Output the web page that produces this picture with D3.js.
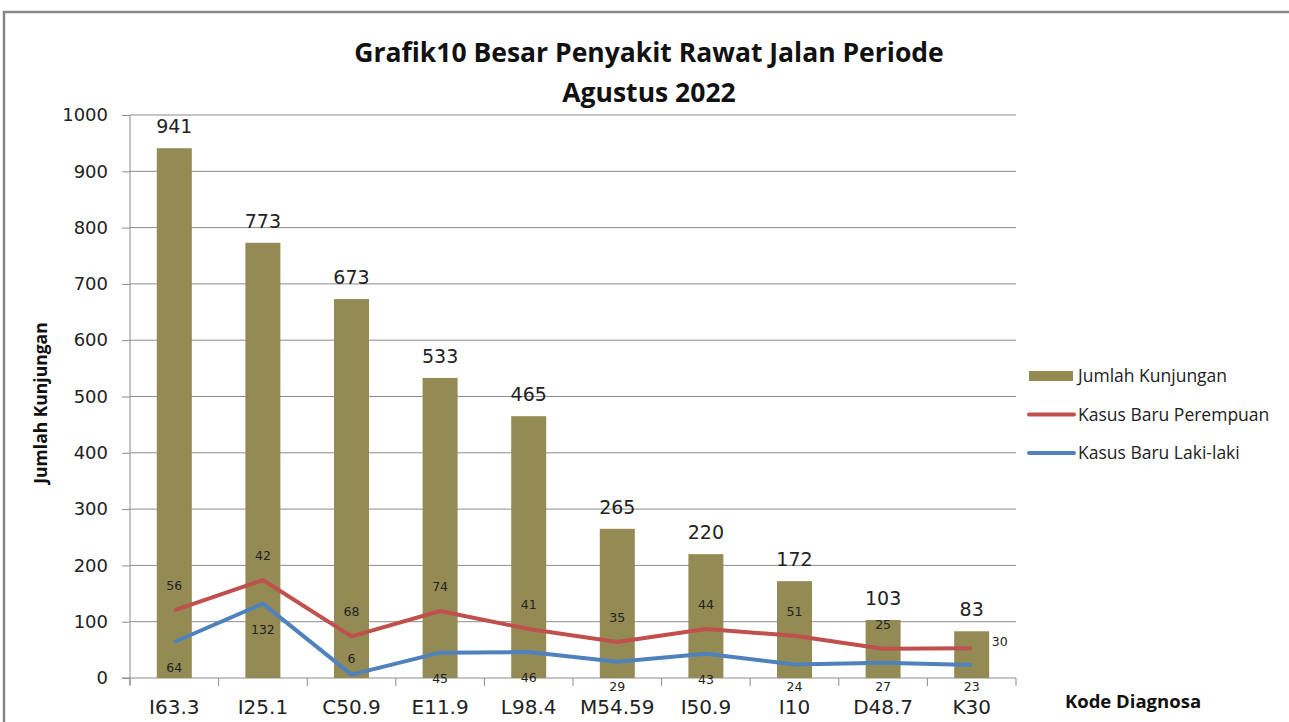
<!DOCTYPE html>
<html>
<head>
<meta charset="utf-8">
<script src="https://cdn.jsdelivr.net/npm/d3@7"></script>
<style>
  body { margin: 0; background: #fff; }
  svg { display: block; }
</style>
</head>
<body>
<div id="chart"></div>
<script>
const categories = ["I63.3", "I25.1", "C50.9", "E11.9", "L98.4", "M54.59", "I50.9", "I10", "D48.7", "K30"];
const kunjungan = [941, 773, 673, 533, 465, 265, 220, 172, 103, 83];
const baruLaki = [64, 132, 6, 45, 46, 29, 43, 24, 27, 23];
const baruPerempuan = [56, 42, 68, 74, 41, 35, 44, 51, 25, 30];
const yTicks = [0, 100, 200, 300, 400, 500, 600, 700, 800, 900, 1000];
const seriesNames = ["Jumlah Kunjungan", "Kasus Baru Perempuan", "Kasus Baru Laki-laki"];

const W = 1289, H = 722;
const plotL = 130, plotR = 1016, plotT = 115, plotB = 678;
const barColor = "#948a54", redColor = "#c0504d", blueColor = "#4f81bd", gridColor = "#8c8c8c";
const numFont = "'DejaVu Sans', Verdana, sans-serif";
const labFont = "'Open Sans', sans-serif";

const svg = d3.select("#chart").append("svg")
    .attr("width", W)
    .attr("height", H);

// outer frame of the chart object
svg.append("rect")
    .attr("x", 4).attr("y", 12)
    .attr("width", W + 20).attr("height", H + 20)
    .attr("fill", "none")
    .attr("stroke", "#878787")
    .attr("stroke-width", 2.5);

const x = d3.scaleBand().domain(categories).range([plotL, plotR]);
const y = d3.scaleLinear().domain([0, 1000]).range([plotB, plotT]);
const cx = c => x(c) + x.bandwidth() / 2;

// gridlines
svg.append("g")
    .selectAll("line")
    .data(yTicks.filter(d => d > 0))
    .enter().append("line")
    .attr("x1", plotL).attr("x2", plotR)
    .attr("y1", d => y(d)).attr("y2", d => y(d))
    .attr("stroke", gridColor).attr("stroke-width", 1);

// y axis
const yAxis = svg.append("g")
    .attr("transform", `translate(${plotL},0)`)
    .call(d3.axisLeft(y).tickValues(yTicks).tickFormat(d3.format("d")).tickSize(8).tickPadding(14));
yAxis.selectAll("text").attr("font-family", numFont).attr("font-size", 18).attr("fill", "#222");
yAxis.selectAll("line, path").attr("stroke", gridColor);
yAxis.select(".domain").attr("d", `M0,${plotT}V${plotB + 7}`);

// x axis
const xAxis = svg.append("g")
    .attr("transform", `translate(0,${plotB})`)
    .call(d3.axisBottom(x).tickSize(0).tickPadding(22));
xAxis.select(".domain").attr("stroke", gridColor).attr("d", `M${plotL - 8},0H${plotR}`);
xAxis.selectAll("text").attr("font-family", numFont).attr("font-size", 20).attr("fill", "#222");
xAxis.selectAll(".catTick")
    .data(d3.range(categories.length + 1))
    .enter().append("line")
    .attr("class", "catTick")
    .attr("x1", i => plotL + i * x.step()).attr("x2", i => plotL + i * x.step())
    .attr("y1", 0).attr("y2", 8)
    .attr("stroke", gridColor);

// bars
const barW = 35;
svg.append("g")
    .selectAll("rect")
    .data(kunjungan)
    .enter().append("rect")
    .attr("x", (d, i) => cx(categories[i]) - barW / 2)
    .attr("y", d => y(d))
    .attr("width", barW)
    .attr("height", d => plotB - y(d))
    .attr("fill", barColor);

svg.append("g")
    .selectAll("text")
    .data(kunjungan)
    .enter().append("text")
    .attr("x", (d, i) => cx(categories[i]))
    .attr("y", d => y(d) - 15)
    .attr("text-anchor", "middle")
    .attr("font-family", numFont)
    .attr("font-size", 19)
    .attr("fill", "#222")
    .text(d => d);

// stacked lines (laki-laki at the bottom, perempuan on top of it)
const lakiPts = baruLaki.map((v, i) => ({ i: i, cat: categories[i], v: v, sum: v }));
const perPts = baruPerempuan.map((v, i) => ({ i: i, cat: categories[i], v: v, sum: v + baruLaki[i] }));

const line = d3.line()
    .x(d => cx(d.cat))
    .y(d => y(d.sum));

svg.append("path").datum(perPts)
    .attr("d", line).attr("fill", "none")
    .attr("stroke", redColor).attr("stroke-width", 4).attr("stroke-linejoin", "round");
svg.append("path").datum(lakiPts)
    .attr("d", line).attr("fill", "none")
    .attr("stroke", blueColor).attr("stroke-width", 4).attr("stroke-linejoin", "round");

// red labels go above the point, or to the right when the bar label is in the way
const redSide = d => (y(d.sum) - 20) - (y(kunjungan[d.i]) - 15) < 18;
svg.append("g")
    .selectAll("text")
    .data(perPts)
    .enter().append("text")
    .attr("x", d => redSide(d) ? cx(d.cat) + 28 : cx(d.cat))
    .attr("y", d => redSide(d) ? y(d.sum) - 2 : y(d.sum) - 20)
    .attr("text-anchor", "middle")
    .attr("font-family", numFont).attr("font-size", 12.5).attr("fill", "#222")
    .text(d => d.v);

svg.append("g")
    .selectAll("text")
    .data(lakiPts)
    .enter().append("text")
    .attr("x", d => cx(d.cat))
    .attr("y", d => {
        const below = y(d.sum) + 30;
        return below > plotB + 20 ? y(d.sum) - 12 : Math.min(below, plotB + 13);
    })
    .attr("text-anchor", "middle")
    .attr("font-family", numFont).attr("font-size", 12.5).attr("fill", "#222")
    .text(d => d.v);

// title
const title = svg.append("text")
    .attr("text-anchor", "middle")
    .attr("font-family", labFont).attr("font-weight", "bold")
    .attr("font-size", 26.5).attr("fill", "#111");
title.append("tspan").attr("x", 649).attr("y", 62).text("Grafik10 Besar Penyakit Rawat Jalan Periode");
title.append("tspan").attr("x", 649).attr("y", 102).text("Agustus 2022");

// axis titles
svg.append("text")
    .attr("transform", "translate(47,403) rotate(-90)")
    .attr("text-anchor", "middle")
    .attr("font-family", labFont).attr("font-weight", "bold")
    .attr("font-size", 17.5).attr("fill", "#111")
    .text("Jumlah Kunjungan");

svg.append("text")
    .attr("x", 1133).attr("y", 708)
    .attr("text-anchor", "middle")
    .attr("font-family", labFont).attr("font-weight", "bold")
    .attr("font-size", 18.5).attr("fill", "#111")
    .text("Kode Diagnosa");

// legend
const legend = svg.append("g").attr("transform", "translate(1029,376)");
const rows = legend.selectAll("g")
    .data(seriesNames)
    .enter().append("g")
    .attr("transform", (d, i) => `translate(0,${i * 38.5})`);
rows.each(function (d, i) {
    const g = d3.select(this);
    if (i === 0) {
        g.append("rect").attr("x", 0).attr("y", -5).attr("width", 44).attr("height", 10).attr("fill", barColor);
    } else {
        g.append("line").attr("x1", 0).attr("x2", 45).attr("y1", 0).attr("y2", 0)
            .attr("stroke", i === 1 ? redColor : blueColor).attr("stroke-width", 4).attr("stroke-linecap", "round");
    }
});
rows.append("text")
    .attr("x", 49).attr("y", 0).attr("dy", "0.35em")
    .attr("font-family", labFont).attr("font-size", 17.5).attr("fill", "#222")
    .text(d => d);
</script>
</body>
</html>
